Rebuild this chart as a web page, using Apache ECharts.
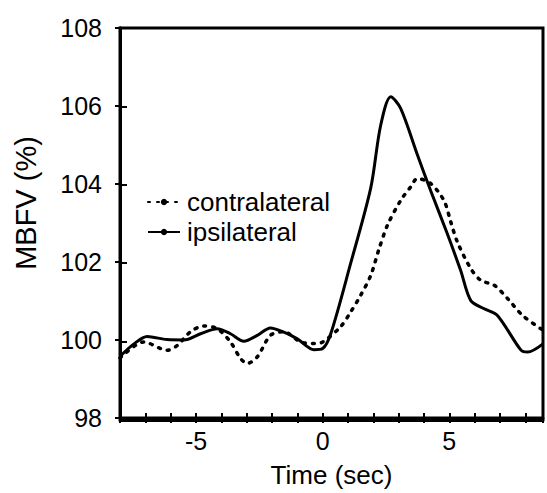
<!DOCTYPE html>
<html>
<head>
<meta charset="utf-8">
<script src="https://cdn.jsdelivr.net/npm/echarts@6/dist/echarts.min.js"></script>
<style>
html,body{margin:0;padding:0;background:#fff;}
#chart{width:547px;height:493px;}
</style>
</head>
<body>
<div id="chart"></div>
<script>
const ipsiX = [-8, -7.45, -6.93, -6.14, -5.48, -4.82, -4.16, -3.64, -3.11, -2.58, -2.06, -1.53, -1.0, -0.34, 0, 0.32, 1.1, 1.9, 2.29, 2.69, 3.08, 3.74, 4.27, 4.93, 5.45, 5.85, 6.38, 6.9, 7.83, 8.09, 8.7];
const ipsiY = [99.58, 99.9, 100.09, 100.01, 100.0, 100.16, 100.29, 100.16, 99.97, 100.12, 100.31, 100.2, 100.03, 99.75, 99.78, 100.16, 101.95, 103.9, 105.5, 106.24, 105.94, 104.75, 103.82, 102.71, 101.78, 101.01, 100.8, 100.63, 99.74, 99.69, 99.9];
const contraX = [-8, -7.06, -6.14, -5.74, -5.22, -4.69, -4.16, -3.64, -3.24, -2.98, -2.58, -2.06, -1.53, -0.87, -0.34, 0, 0.71, 1.1, 1.5, 1.9, 2.23, 2.56, 3.08, 3.48, 3.74, 4.27, 4.79, 5.06, 5.32, 5.85, 6.25, 6.77, 7.3, 7.89, 8.7];
const contraY = [99.58, 99.99, 99.78, 99.9, 100.25, 100.4, 100.33, 99.99, 99.57, 99.44, 99.61, 100.16, 100.25, 99.99, 99.95, 99.99, 100.38, 100.75, 101.18, 101.69, 102.37, 102.97, 103.6, 103.95, 104.16, 104.03, 103.6, 103.05, 102.54, 101.86, 101.56, 101.44, 101.1, 100.67, 100.29];
const seriesNames = ['contralateral', 'ipsilateral'];
const xTickLabels = [-5, 0, 5];
const yMin = 98, yMax = 108, yStep = 2;
const xMin = -8, xMax = 8.7, xStep = 1;

const zip = (xs, ys) => xs.map((x, i) => [x, ys[i]]);
const FONT = 'Liberation Sans, Arial, sans-serif';

const chart = echarts.init(document.getElementById('chart'), null, {renderer: 'svg'});
const gridPos = {left: 120, right: 4, top: 28, bottom: 73};
chart.setOption({
  backgroundColor: '#fff',
  animation: false,
  grid: [
    Object.assign({show: true, borderColor: '#000', borderWidth: 3, backgroundColor: 'transparent'}, gridPos),
    Object.assign({show: false}, gridPos)
  ],
  legend: {
    data: seriesNames,
    orient: 'vertical',
    left: 142,
    top: 184,
    itemWidth: 32,
    itemHeight: 8,
    itemGap: 4,
    textStyle: {fontFamily: FONT, fontSize: 26, color: '#000', padding: [0, 0, 0, 2]}
  },
  xAxis: [{
    type: 'value', gridIndex: 0, min: xMin, max: xMax, interval: xStep,
    name: 'Time (sec)', nameLocation: 'middle', nameGap: 44,
    nameTextStyle: {fontFamily: FONT, fontSize: 26, color: '#000'},
    axisLine: {onZero: false, lineStyle: {color: '#000', width: 3}},
    axisTick: {show: true, inside: false, length: 5, lineStyle: {color: '#000', width: 2}},
    axisLabel: {
      fontFamily: FONT, fontSize: 25, color: '#000', margin: 10,
      formatter: v => xTickLabels.indexOf(v) >= 0 ? String(v) : ''
    },
    splitLine: {show: false}
  }, {
    type: 'value', gridIndex: 1, min: xMin, max: xMax, interval: xStep, position: 'bottom',
    axisLine: {show: true, onZero: false, lineStyle: {color: '#000', width: 3}},
    axisTick: {show: true, inside: true, length: 7, lineStyle: {color: '#000', width: 2}},
    axisLabel: {show: false},
    splitLine: {show: false}
  }],
  yAxis: [{
    type: 'value', gridIndex: 0, min: yMin, max: yMax, interval: yStep,
    name: 'MBFV (%)', nameLocation: 'middle', nameGap: 80,
    nameTextStyle: {fontFamily: FONT, fontSize: 29, color: '#000', padding: [0, 0, 0, 40]},
    axisLine: {show: true, onZero: false, lineStyle: {color: '#000', width: 3}},
    axisTick: {show: true, inside: false, length: 5, lineStyle: {color: '#000', width: 2}},
    axisLabel: {fontFamily: FONT, fontSize: 25, color: '#000', margin: 18},
    splitLine: {show: false}
  }, {
    type: 'value', gridIndex: 1, min: yMin, max: yMax, interval: yStep, position: 'left',
    axisLine: {show: true, onZero: false, lineStyle: {color: '#000', width: 3}},
    axisTick: {show: true, inside: true, length: 7, lineStyle: {color: '#000', width: 2}},
    axisLabel: {show: false},
    splitLine: {show: false}
  }],
  series: [{
    name: seriesNames[0], type: 'line', xAxisIndex: 1, yAxisIndex: 1,
    data: zip(contraX, contraY), symbol: 'none', smooth: 0.3,
    lineStyle: {color: '#000', width: 3.5, type: [2, 7], cap: 'round'},
    itemStyle: {color: '#000'}
  }, {
    name: seriesNames[1], type: 'line', xAxisIndex: 0, yAxisIndex: 0,
    data: zip(ipsiX, ipsiY), symbol: 'none', smooth: 0.3,
    lineStyle: {color: '#000', width: 3},
    itemStyle: {color: '#000'}
  }]
});
</script>
</body>
</html>
